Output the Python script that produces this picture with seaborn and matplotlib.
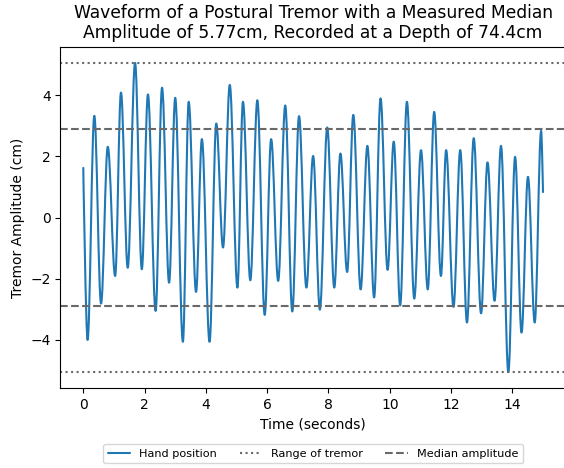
import matplotlib
matplotlib.use('Agg')
import matplotlib.pyplot as plt
from matplotlib.path import Path
from matplotlib.patches import PathPatch
from matplotlib.lines import Line2D
import seaborn as sns

# turning points of the hand position trace (seconds, cm)
times = [0.00, 0.14, 0.36, 0.58, 0.80, 1.04, 1.23, 1.45, 1.69, 1.91,
         2.11, 2.36, 2.57, 2.80, 3.00, 3.25, 3.44, 3.68, 3.87, 4.12,
         4.34, 4.56, 4.78, 5.03, 5.21, 5.45, 5.68, 5.92, 6.13, 6.36,
         6.59, 6.82, 7.04, 7.28, 7.50, 7.72, 7.96, 8.19, 8.39, 8.61,
         8.81, 9.05, 9.27, 9.49, 9.70, 9.93, 10.13, 10.34, 10.56, 10.80,
         11.02, 11.24, 11.45, 11.67, 11.84, 12.08, 12.30, 12.52, 12.74, 12.98,
         13.19, 13.42, 13.63, 13.87, 14.09, 14.30, 14.51, 14.73, 14.94, 15.00]
position = [1.62, -4.00, 3.32, -2.81, 2.31, -1.91, 4.08, -1.64, 5.05, -1.69,
            4.02, -3.05, 4.24, -2.13, 3.91, -4.06, 3.78, -2.43, 2.56, -4.06,
            3.07, -0.98, 4.33, -2.29, 3.78, -2.05, 3.83, -3.18, 2.56, -2.07,
            3.66, -3.07, 3.31, -2.29, 2.01, -3.01, 2.94, -2.29, 2.09, -1.78,
            3.35, -2.35, 2.34, -2.61, 3.89, -1.71, 2.48, -2.87, 3.78, -2.65,
            2.20, -2.35, 3.45, -1.91, 2.20, -2.92, 2.20, -3.43, 2.59, -3.13,
            1.80, -2.72, 2.34, -5.05, 1.98, -3.76, 1.33, -3.43, 2.83, 0.83]

range_high = 5.05
range_low = -5.05
median_amplitude = 5.77
depth = 74.4

sns.set_style('ticks', {'axes.edgecolor': 'black', 'text.color': 'black',
                        'axes.labelcolor': 'black', 'xtick.color': 'black',
                        'ytick.color': 'black'})
plt.rcParams['font.family'] = 'DejaVu Sans'

fig = plt.figure(figsize=(5.64, 4.68), dpi=100)
ax = fig.add_axes([0.1069, 0.1703, 0.8966, 0.7299])

# smooth trace: cubic Bezier pieces with flat tangents at each turning point
k = 0.364
verts = [(times[0], position[0])]
codes = [Path.MOVETO]
for i in range(len(times) - 1):
    t0, v0, t1, v1 = times[i], position[i], times[i + 1], position[i + 1]
    dt = t1 - t0
    c1 = (t0, v0) if i == 0 else (t0 + k * dt, v0)
    c2 = (t1, v1) if i == len(times) - 2 else (t1 - k * dt, v1)
    verts += [c1, c2, (t1, v1)]
    codes += [Path.CURVE4] * 3
blue = '#1f77b4'
ax.add_patch(PathPatch(Path(verts, codes), facecolor='none', edgecolor=blue,
                       linewidth=1.5, capstyle='round', joinstyle='round'))

grey = 'dimgray'
ax.axhline(range_high, color=grey, linestyle=':', linewidth=1.5)
ax.axhline(range_low, color=grey, linestyle=':', linewidth=1.5)
ax.axhline(median_amplitude / 2, color=grey, linestyle='--', linewidth=1.5)
ax.axhline(-median_amplitude / 2, color=grey, linestyle='--', linewidth=1.5)

ax.set_xlim(-0.75, 15.75)
ax.set_ylim(-5.58, 5.58)
ax.set_xticks(range(0, 15, 2))
ax.set_yticks(range(-4, 5, 2))
ax.set_xlabel('Time (seconds)')
ax.set_ylabel('Tremor Amplitude (cm)')
ax.set_title(f'Waveform of a Postural Tremor with a Measured Median\n'
             f'Amplitude of {median_amplitude}cm, Recorded at a Depth of {depth}cm',
             fontsize=12.3)

handles = [Line2D([], [], color=blue, linewidth=1.5, label='Hand position'),
           Line2D([], [], color=grey, linestyle=':', linewidth=1.5, label='Range of tremor'),
           Line2D([], [], color=grey, linestyle='--', linewidth=1.5, label='Median amplitude')]
ax.legend(handles=handles, loc='upper center', bbox_to_anchor=(0.5, -0.147),
          ncol=3, fontsize=8.1)

fig.savefig('out.png', dpi=100)
